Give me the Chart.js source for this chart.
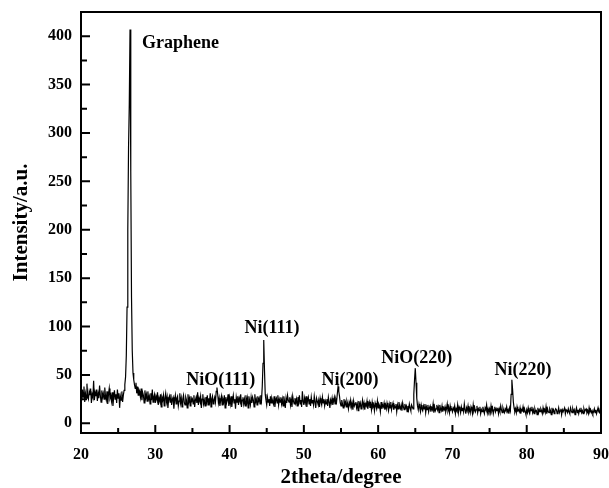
<!DOCTYPE html>
<html>
<head>
<meta charset="utf-8">
<script src="https://cdn.jsdelivr.net/npm/chart.js@4/dist/chart.umd.min.js"></script>
<style>
  html, body { margin: 0; padding: 0; background: #fff; }
  #wrap { width: 609px; height: 488px; position: relative; }
</style>
</head>
<body>
<div id="wrap"><canvas id="c" width="609" height="488"></canvas></div>
<script>
// 2theta grid: 20.0 .. 90.0, step 0.1 degree
const angleStart = 20.0;
const angleStep = 0.1;
// Intensity (a.u.), one row per degree
const intensity = [
  30,24,35,27,38,22,31,26,41,28,   // 20
  25,33,29,36,21,30,27,44,24,32,   // 21
  28,35,23,31,26,39,29,22,34,27,   // 22
  31,25,37,28,24,33,20,30,36,26,   // 23
  29,23,32,18,27,34,25,30,21,35,   // 24
  26,31,16,28,24,33,22,29,34,40,   // 25
  48,70,120,200,285,330,407,260,130,75, // 26
  52,45,40,36,42,31,38,29,35,33,   // 27
  27,36,24,32,29,21,34,26,30,23,   // 28
  33,25,28,20,31,24,35,22,27,30,   // 29
  21,28,25,32,19,26,23,30,17,27,   // 30
  24,29,18,26,31,22,27,16,25,28,   // 31
  22,30,19,25,27,15,24,29,20,26,   // 32
  28,18,23,31,21,26,17,25,29,22,   // 33
  19,27,24,16,30,22,26,18,28,23,   // 34
  25,20,29,17,24,27,21,32,19,26,   // 35
  23,28,16,25,30,20,24,18,27,22,   // 36
  29,19,26,22,31,17,25,28,20,24,   // 37
  27,22,33,37,30,21,26,18,24,28,   // 38
  19,25,22,29,16,27,21,24,30,18,   // 39
  26,20,28,17,24,29,21,25,15,27,   // 40
  22,28,19,26,23,30,17,24,27,20,   // 41
  25,18,29,21,26,16,28,23,19,27,   // 42
  21,27,24,17,30,22,25,19,28,23,   // 43
  26,20,29,24,38,62,86,55,30,24,   // 44
  19,27,22,25,18,28,21,26,23,20,   // 45
  28,17,24,26,21,29,19,25,22,27,   // 46
  20,25,18,28,23,16,26,21,29,24,   // 47
  22,27,19,25,17,28,23,20,26,21,   // 48
  25,18,27,22,29,20,24,17,33,23,   // 49
  19,26,21,28,17,24,27,20,25,18,   // 50
  27,21,24,19,28,22,16,26,23,20,   // 51
  24,17,26,22,19,27,21,25,18,23,   // 52
  20,25,18,27,22,16,24,21,26,19,   // 53
  23,27,20,25,22,30,38,33,28,21,   // 54
  18,24,20,16,25,19,22,17,23,20,   // 55
  15,22,19,24,17,21,14,23,18,20,   // 56
  22,16,20,13,23,18,21,15,19,24,   // 57
  17,21,14,20,18,23,15,19,22,16,   // 58
  20,14,22,17,19,13,21,18,15,23,   // 59
  16,20,18,12,22,15,19,17,21,14,   // 60
  19,15,21,17,13,20,16,22,14,18,   // 61
  21,14,18,16,20,12,19,15,22,17,   // 62
  15,19,13,21,17,14,20,16,18,12,   // 63
  18,14,20,16,13,19,17,15,30,45,   // 64
  57,42,26,18,14,20,16,12,19,15,   // 65
  13,18,15,20,11,17,14,19,12,16,   // 66
  18,12,16,14,20,11,17,13,15,19,   // 67
  14,17,11,19,15,13,18,12,16,14,   // 68
  17,12,15,20,13,16,11,18,14,15,   // 69
  12,16,14,18,10,15,13,19,11,17,   // 70
  15,11,17,13,16,12,20,14,10,16,   // 71
  13,18,12,15,11,17,14,10,19,13,   // 72
  16,12,14,18,11,15,13,17,10,14,   // 73
  12,17,13,10,16,14,19,11,15,12,   // 74
  15,11,18,13,16,10,14,17,12,15,   // 75
  13,16,10,15,12,18,14,11,16,13,   // 76
  11,15,13,17,12,14,10,16,13,30,   // 77
  45,35,22,16,12,15,11,17,13,14,   // 78
  12,16,10,14,13,17,11,15,12,9,    // 79
  14,11,16,12,10,15,13,17,11,14,   // 80
  10,15,12,13,9,16,11,14,12,15,    // 81
  13,10,16,12,14,11,17,10,15,12,   // 82
  11,15,13,9,16,12,14,10,13,15,    // 83
  14,10,12,16,11,13,15,9,14,12,    // 84
  12,16,10,14,13,11,15,12,10,16,   // 85
  13,11,15,12,14,9,13,16,11,14,    // 86
  10,14,12,16,11,13,10,15,12,14,   // 87
  15,11,13,10,16,12,14,11,13,10,   // 88
  12,15,11,14,10,13,16,12,11,14,   // 89
  12                               // 90
];

const xMajorTicks = [20, 30, 40, 50, 60, 70, 80, 90];
const xMinorTicks = [25, 35, 45, 55, 65, 75, 85];
const yMajorTicks = [0, 50, 100, 150, 200, 250, 300, 350, 400];
const yMinorTicks = [25, 75, 125, 175, 225, 275, 325, 375];

const peakLabels = ['Graphene', 'NiO(111)', 'Ni(111)', 'Ni(200)', 'NiO(220)', 'Ni(220)'];
const peakLabelX = [28.2, 38.8, 45.7, 56.2, 65.2, 79.5];
const peakLabelY = [388, 40, 93, 40, 62, 50];
const peakLabelAlign = ['left', 'center', 'center', 'center', 'center', 'center'];

const points = intensity.map((v, i) => ({ x: +(angleStart + i * angleStep).toFixed(1), y: v }));

const FONT = "'Liberation Serif', 'Times New Roman', serif";

const framePlugin = {
  id: 'frame',
  afterDraw(chart) {
    const ctx = chart.ctx;
    const a = chart.chartArea;
    const xs = chart.scales.x, ys = chart.scales.y;
    ctx.save();
    ctx.strokeStyle = '#000';
    ctx.lineWidth = 2;
    ctx.strokeRect(a.left, a.top, a.right - a.left, a.bottom - a.top);
    ctx.lineWidth = 2;
    ctx.beginPath();
    xMajorTicks.forEach(v => { const p = xs.getPixelForValue(v); ctx.moveTo(p, a.bottom); ctx.lineTo(p, a.bottom - 8); });
    xMinorTicks.forEach(v => { const p = xs.getPixelForValue(v); ctx.moveTo(p, a.bottom); ctx.lineTo(p, a.bottom - 5); });
    yMajorTicks.forEach(v => { const p = ys.getPixelForValue(v); ctx.moveTo(a.left, p); ctx.lineTo(a.left + 9, p); });
    yMinorTicks.forEach(v => { const p = ys.getPixelForValue(v); ctx.moveTo(a.left, p); ctx.lineTo(a.left + 6, p); });
    ctx.stroke();
    ctx.fillStyle = '#000';
    ctx.font = "bold 18px " + FONT;
    ctx.textBaseline = 'alphabetic';
    peakLabels.forEach((t, i) => {
      ctx.textAlign = peakLabelAlign[i];
      ctx.fillText(t, xs.getPixelForValue(peakLabelX[i]), ys.getPixelForValue(peakLabelY[i]));
    });
    ctx.restore();
  }
};

function noPad(s) { s.paddingLeft = 0; s.paddingRight = 0; s.paddingTop = 0; s.paddingBottom = 0; }

new Chart(document.getElementById('c'), {
  type: 'line',
  data: {
    datasets: [{
      data: points,
      borderColor: '#000',
      borderWidth: 1.2,
      pointRadius: 0,
      tension: 0,
      fill: false
    }]
  },
  options: {
    responsive: false,
    animation: false,
    events: [],
    layout: { padding: { top: 12, right: 8, left: 0, bottom: 0 } },
    plugins: { legend: { display: false }, tooltip: { enabled: false } },
    scales: {
      x: {
        type: 'linear',
        min: 20, max: 90,
        afterBuildTicks: s => { s.ticks = xMajorTicks.map(v => ({ value: v })); },
        afterFit: s => { s.height = 55; noPad(s); },
        grid: { display: false, drawTicks: false },
        border: { display: false },
        ticks: { color: '#000', font: { family: FONT, size: 16, weight: 'bold' }, padding: 12, maxRotation: 0, autoSkip: false },
        title: { display: true, text: '2theta/degree', color: '#000', font: { family: FONT, size: 21, weight: 'bold', lineHeight: 1 }, padding: { top: 0, bottom: 0 } }
      },
      y: {
        type: 'linear',
        min: -10, max: 425,
        afterBuildTicks: s => { s.ticks = yMajorTicks.map(v => ({ value: v })); },
        afterFit: s => { s.width = 81; noPad(s); },
        grid: { display: false, drawTicks: false },
        border: { display: false },
        ticks: { color: '#000', font: { family: FONT, size: 16, weight: 'bold' }, padding: 9, autoSkip: false },
        title: { display: true, text: 'Intensity/a.u.', color: '#000', font: { family: FONT, size: 21, weight: 'bold' }, padding: { top: 9, bottom: 0 } }
      }
    }
  },
  plugins: [framePlugin]
});
</script>
</body>
</html>
